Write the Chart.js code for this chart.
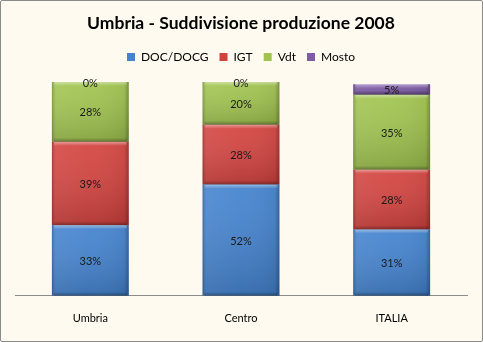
<!DOCTYPE html>
<html>
<head>
<meta charset="utf-8">
<script src="https://cdn.jsdelivr.net/npm/chart.js@4/dist/chart.umd.min.js"></script>
<style>
  body { margin: 0; background: #fff; }
  #wrap {
    width: 483px; height: 342px; box-sizing: border-box;
    border: 1px solid #8a8a8a; border-radius: 2px; background: #fefaf0;
  }
</style>
</head>
<body>
<div id="wrap"><canvas id="chart" width="481" height="340"></canvas></div>
<script>
var regions = ["Umbria", "Centro", "ITALIA"];
var docDocg = [33, 52, 31];
var igt = [39, 28, 28];
var vdt = [28, 20, 35];
var mosto = [0, 0, 5];

var colors = {
  doc: "#4282cf",
  igt: "#d4423e",
  vdt: "#a0c44e",
  mosto: "#7e5aa8"
};

// extra room between the legend and the plot
var legendGap = {
  id: "legendGap",
  beforeInit: function (chart) {
    var fit = chart.legend.fit;
    chart.legend.fit = function () {
      fit.bind(chart.legend)();
      this.height += 9;
    };
  }
};

// draws the bevel shading on every bar and the percent labels
var bevelPlugin = {
  id: "bevel",
  afterDatasetsDraw: function (chart) {
    var ctx = chart.ctx;
    chart.data.datasets.forEach(function (ds, di) {
      var meta = chart.getDatasetMeta(di);
      meta.data.forEach(function (bar, i) {
        var left = bar.x - bar.width / 2;
        var right = bar.x + bar.width / 2;
        var top = Math.min(bar.y, bar.base);
        var h = Math.abs(bar.base - bar.y);
        ctx.save();
        if (h > 0) {
          var gv = ctx.createLinearGradient(0, top, 0, top + h);
          gv.addColorStop(0, "rgba(255,255,255,0.06)");
          gv.addColorStop(1, "rgba(0,0,0,0.16)");
          ctx.fillStyle = gv;
          ctx.fillRect(left, top, bar.width, h);
          var g = ctx.createLinearGradient(left, 0, right, 0);
          g.addColorStop(0, "rgba(0,0,0,0.22)");
          g.addColorStop(0.06, "rgba(255,255,255,0.06)");
          g.addColorStop(0.5, "rgba(255,255,255,0.02)");
          g.addColorStop(0.94, "rgba(0,0,0,0.05)");
          g.addColorStop(1, "rgba(0,0,0,0.28)");
          ctx.fillStyle = g;
          ctx.fillRect(left, top, bar.width, h);
          var b = Math.min(4, h / 2);
          var gt = ctx.createLinearGradient(0, top, 0, top + b);
          gt.addColorStop(0, "rgba(255,255,255,0.4)");
          gt.addColorStop(1, "rgba(255,255,255,0)");
          ctx.fillStyle = gt;
          ctx.fillRect(left + 2, top, bar.width - 4, b);
          var gb = ctx.createLinearGradient(0, top + h - b, 0, top + h);
          gb.addColorStop(0, "rgba(0,0,0,0)");
          gb.addColorStop(1, "rgba(0,0,0,0.3)");
          ctx.fillStyle = gb;
          ctx.fillRect(left + 2, top + h - b, bar.width - 4, b);
        }
        ctx.fillStyle = "#1a1a1a";
        ctx.font = "11px Lato";
        ctx.textAlign = "center";
        ctx.textBaseline = "middle";
        ctx.fillText(ds.data[i] + "%", bar.x, top + h / 2 + 1);
        ctx.restore();
      });
    });
  }
};

var config = {
  type: "bar",
  data: {
    labels: regions,
    datasets: [
      { label: "DOC/DOCG", data: docDocg, backgroundColor: colors.doc },
      { label: "IGT", data: igt, backgroundColor: colors.igt },
      { label: "Vdt", data: vdt, backgroundColor: colors.vdt },
      { label: "Mosto", data: mosto, backgroundColor: colors.mosto }
    ]
  },
  options: {
    responsive: false,
    animation: false,
    layout: { padding: { left: 14, right: 15, top: 0, bottom: 0 } },
    datasets: {
      bar: { categoryPercentage: 0.51, barPercentage: 1, borderWidth: 0 }
    },
    plugins: {
      title: {
        display: true,
        text: "Umbria - Suddivisione produzione 2008",
        color: "#000",
        font: { family: "Lato", size: 17.5, weight: "bold" },
        padding: { top: 12, bottom: 6 }
      },
      legend: {
        display: true,
        labels: {
          color: "#000",
          font: { family: "Lato", size: 12 },
          boxWidth: 8,
          boxHeight: 8,
          padding: 11
        }
      },
      tooltip: { enabled: false }
    },
    scales: {
      x: {
        stacked: true,
        grid: { display: false, drawTicks: false },
        border: { color: "#8c8c8c" },
        ticks: { color: "#000", font: { family: "Lato", size: 11 }, padding: 16 }
      },
      y: {
        stacked: true,
        display: false,
        min: 0,
        max: 100
      }
    }
  },
  plugins: [legendGap, bevelPlugin]
};

var canvasElement = document.getElementById("chart");
var produzioneChart = new Chart(canvasElement, config);
</script>
</body>
</html>
